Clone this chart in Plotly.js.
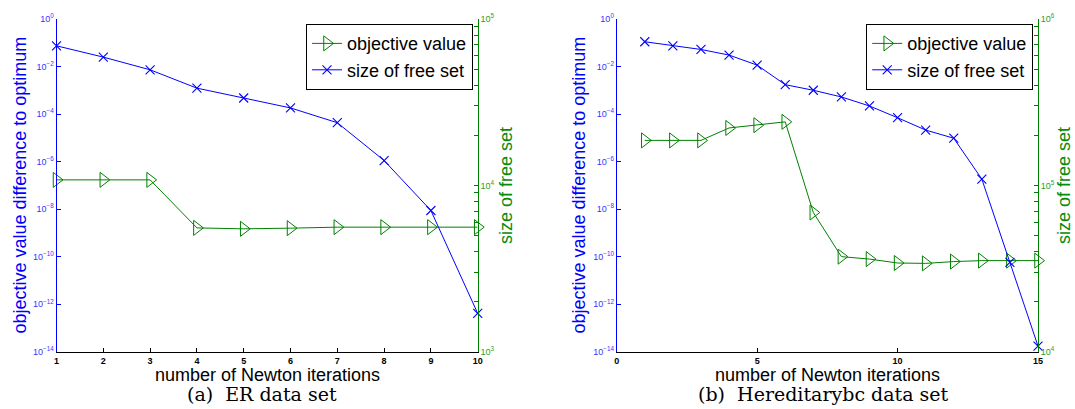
<!DOCTYPE html>
<html>
<head>
<meta charset="utf-8">
<script src="https://cdn.plot.ly/plotly-3.0.1.min.js"></script>
<style>html,body{margin:0;padding:0;background:#fff;}#chart{width:1075px;height:409px;}</style>
</head>
<body>
<div id="chart"></div>
<script>
// ---- data: ER data set ----
const iterER = [1, 2, 3, 4, 5, 6, 7, 8, 9, 10];
const objER = [1.7e-7, 1.7e-7, 1.7e-7, 1.62e-9, 1.48e-9, 1.58e-9, 1.74e-9, 1.74e-9, 1.74e-9, 1.74e-9];
const freeER = [69000, 59000, 49500, 38400, 33500, 29200, 23800, 14100, 7060, 1700];

// ---- data: Hereditarybc data set ----
const iterHB = [1, 2, 3, 4, 5, 6, 7, 8, 9, 10, 11, 12, 13, 14, 15];
const objHB = [7.8e-6, 7.8e-6, 7.8e-6, 2.6e-5, 3.4e-5, 4.7e-5, 7.2e-9, 1.0e-10, 7.9e-11, 5.4e-11, 5.2e-11, 6.2e-11, 6.8e-11, 6.8e-11, 6.8e-11];
const freeHB = [730000, 690000, 656000, 607000, 528000, 403000, 373000, 340000, 300000, 255000, 215000, 192000, 109000, 34400, 10800];

// ---- labels ----
const seriesNames = ['objective value', 'size of free set'];
const leftExponents = [-14, -12, -10, -8, -6, -4, -2, 0];
const rightExpER = [3, 4, 5];
const rightExpHB = [4, 5, 6];
const xTicksER = [1, 2, 3, 4, 5, 6, 7, 8, 9, 10];
const xTicksHB = [0, 5, 10, 15];
const leftTitle = 'objective value difference to optimum';
const rightTitle = 'size of free set';
const xTitle = 'number of Newton iterations';
const captions = ['(a)&nbsp; ER data set', '(b)&nbsp; Hereditarybc data set'];

function expLabel(e) { return '10<sup>' + (e < 0 ? '\u2212' + (-e) : e) + '</sup>'; }

function logTicks(exps) {
  const vals = [], text = [], minor = [];
  exps.forEach((e, i) => {
    vals.push(Math.pow(10, e)); text.push(expLabel(e));
    if (i < exps.length - 1) {
      for (let m = 2; m <= 9; m++) minor.push(m * Math.pow(10, e));
    }
  });
  return {vals, text, minor};
}

const BLUE = '#0000ff', GREEN = '#008000';
const leftT = logTicks(leftExponents);
const rightTER = logTicks(rightExpER);
const rightTHB = logTicks(rightExpHB);

const yDom = [1 - 351.7 / 409, 1 - 19 / 409];
const xDomA = [56.5 / 1075, 477.7 / 1075];
const xDomB = [616.7 / 1075, 1038 / 1075];

function greenTrace(x, y, xa, ya, lg) {
  return {x: x, y: y, xaxis: xa, yaxis: ya, legend: lg, name: seriesNames[0], type: 'scatter', mode: 'lines+markers',
    cliponaxis: false, line: {color: GREEN, width: 1},
    marker: {symbol: 'triangle-right-open', size: 13, color: GREEN, line: {color: GREEN, width: 1}}};
}
function blueTrace(x, y, xa, ya, lg) {
  return {x: x, y: y, xaxis: xa, yaxis: ya, legend: lg, name: seriesNames[1], type: 'scatter', mode: 'lines+markers',
    cliponaxis: false, line: {color: BLUE, width: 1},
    marker: {symbol: 'x-thin-open', size: 9, color: BLUE, line: {color: BLUE, width: 1.1}}};
}

const data = [
  greenTrace(iterER, objER, 'x', 'y', 'legend'),
  blueTrace(iterER, freeER, 'x', 'y2', 'legend'),
  greenTrace(iterHB, objHB, 'x2', 'y3', 'legend2'),
  blueTrace(iterHB, freeHB, 'x2', 'y4', 'legend2')
];

const tickFontSmall = {family: 'Liberation Sans, Arial, sans-serif', size: 9};

function xAxis(dom, range, ticks, anchor) {
  return {domain: dom, range: range, anchor: anchor, tickmode: 'array', tickvals: ticks, ticktext: ticks.map(String),
    ticks: 'inside', ticklen: 4, tickcolor: '#000', tickwidth: 1, showline: true, linecolor: '#000', linewidth: 1.2,
    showgrid: false, zeroline: false, tickfont: Object.assign({}, tickFontSmall, {color: '#000', weight: 'bold'})};
}
function leftAxis(anchor) {
  return {domain: yDom, type: 'log', range: [-14, 0], anchor: anchor, tickmode: 'array', tickvals: leftT.vals, ticktext: leftT.text,
    ticks: 'inside', ticklen: 4, tickcolor: BLUE, showline: true, linecolor: BLUE, linewidth: 1,
    showgrid: false, zeroline: false, tickfont: Object.assign({}, tickFontSmall, {color: '#3535ff'})};
}
function rightAxis(overlay, anchor, range, t) {
  return {overlaying: overlay, side: 'right', anchor: anchor, type: 'log', range: range, tickmode: 'array',
    tickvals: t.vals, ticktext: t.text, ticks: 'inside', ticklen: 4, tickcolor: GREEN, showline: true, linecolor: GREEN,
    linewidth: 1, showgrid: false, zeroline: false, tickfont: Object.assign({}, tickFontSmall, {color: '#2aa02a'}),
    minor: {tickmode: 'array', tickvals: t.minor, ticks: 'inside', ticklen: 4, tickcolor: GREEN, tickwidth: 1, showgrid: false}};
}

function legendAt(xRight) {
  return {x: xRight / 1075, xanchor: 'right', y: 1 - 24 / 409, yanchor: 'top', bgcolor: '#fff', bordercolor: '#000',
    borderwidth: 1.2, font: {family: 'Liberation Sans, Arial, sans-serif', size: 18, color: '#000'},
    tracegroupgap: 0, itemwidth: 30};
}

function ann(text, x, y, opts) {
  return Object.assign({text: text, x: x, y: y, xref: 'paper', yref: 'paper', showarrow: false,
    xanchor: 'center', yanchor: 'middle'}, opts);
}
const titleFont = (c) => ({family: 'Liberation Sans, Arial, sans-serif', size: 18, color: c});
const capFont = {family: 'DejaVu Serif, serif', size: 19, color: '#000'};

const annotations = [
  ann(leftTitle, 19 / 1075, 1 - 185.5 / 409, {textangle: -90, font: titleFont(BLUE)}),
  ann(rightTitle, 506 / 1075, 1 - 186 / 409, {textangle: -90, font: titleFont('#0a8a0a')}),
  ann(leftTitle, 578 / 1075, 1 - 185.5 / 409, {textangle: -90, font: titleFont(BLUE)}),
  ann(rightTitle, 1064 / 1075, 1 - 186 / 409, {textangle: -90, font: titleFont('#0a8a0a')}),
  ann(xTitle, 267.1 / 1075, 1 - 375 / 409, {font: titleFont('#000')}),
  ann(xTitle, 827.4 / 1075, 1 - 375 / 409, {font: titleFont('#000')}),
  ann(captions[0], 262 / 1075, 1 - 394 / 409, {font: capFont}),
  ann(captions[1], 823.4 / 1075, 1 - 394 / 409, {font: capFont})
];

const layout = {
  width: 1075, height: 409, margin: {l: 0, r: 0, t: 0, b: 0},
  paper_bgcolor: '#fff', plot_bgcolor: '#fff',
  font: {family: 'Liberation Sans, Arial, sans-serif'},
  showlegend: true,
  xaxis: xAxis(xDomA, [1, 10], xTicksER, 'y'),
  yaxis: leftAxis('x'),
  yaxis2: rightAxis('y', 'x', [3, 5], rightTER),
  xaxis2: xAxis(xDomB, [0, 15], xTicksHB, 'y3'),
  yaxis3: leftAxis('x2'),
  yaxis4: rightAxis('y3', 'x2', [4, 6], rightTHB),
  legend: legendAt(472.8),
  legend2: legendAt(1033),
  annotations: annotations
};

Plotly.newPlot('chart', data, layout, {staticPlot: true, displayModeBar: false});
</script>
</body>
</html>
